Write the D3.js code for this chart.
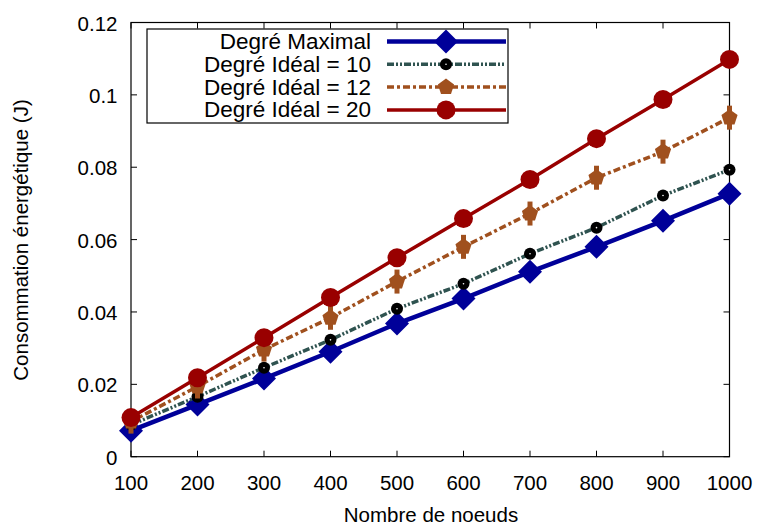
<!DOCTYPE html>
<html><head><meta charset="utf-8">
<script src="https://cdn.jsdelivr.net/npm/d3@7"></script>
<style>body{margin:0;background:#fff}svg{display:block}text{font-family:"Liberation Sans",Arial,sans-serif;fill:#000}</style>
</head><body><svg id="c" width="759" height="525"></svg>
<script>
const nodes = [100,200,300,400,500,600,700,800,900,1000];
const degreMaximal = [0.0072,0.0144,0.0216,0.0290,0.0368,0.0437,0.0511,0.0580,0.0652,0.0727];
const ideal10 = [0.0088,0.0166,0.0246,0.0323,0.0409,0.0478,0.0561,0.0633,0.0722,0.0793];
const ideal12 = [0.0097,0.0194,0.0296,0.0384,0.0484,0.0580,0.0672,0.0771,0.0843,0.0937];
const ideal20 = [0.0108,0.0218,0.0329,0.0440,0.0550,0.0658,0.0766,0.0879,0.0987,0.1098];
const yTicks = [0,0.02,0.04,0.06,0.08,0.1,0.12];
const seriesNames = ["Degré Maximal","Degré Idéal = 10","Degré Idéal = 12","Degré Idéal = 20"];

const series = [
  {name:seriesNames[0], values:degreMaximal, color:"#000099", width:4.5, dash:null, marker:"diamond"},
  {name:seriesNames[1], values:ideal10, color:"#2f5350", width:3.5, dash:"7,2,2,2,2,2", marker:"dot"},
  {name:seriesNames[2], values:ideal12, color:"#a0501e", width:3.5, dash:"7,3,3,3", marker:"pent"},
  {name:seriesNames[3], values:ideal20, color:"#990000", width:3.5, dash:null, marker:"circle"}
];

const L=131, R=729.5, T=22.5, B=456.7;
const svg = d3.select("#c");
const x = d3.scaleLinear().domain([100,1000]).range([L,R]);
const y = d3.scaleLinear().domain([0,0.12]).range([B,T]);

svg.append("rect").attr("x",L).attr("y",T).attr("width",R-L).attr("height",B-T)
  .attr("fill","none").attr("stroke","#000").attr("stroke-width",1.2);

const tl=6;
nodes.forEach(v=>{
  const px=x(v);
  svg.append("line").attr("x1",px).attr("x2",px).attr("y1",B).attr("y2",B-tl).attr("stroke","#000");
  svg.append("line").attr("x1",px).attr("x2",px).attr("y1",T).attr("y2",T+tl).attr("stroke","#000");
  svg.append("text").attr("x",px).attr("y",489.5).attr("text-anchor","middle").attr("font-size",20.5).text(v);
});
yTicks.forEach(v=>{
  const py=y(v);
  svg.append("line").attr("x1",L).attr("x2",L+tl).attr("y1",py).attr("y2",py).attr("stroke","#000");
  svg.append("line").attr("x1",R).attr("x2",R-tl).attr("y1",py).attr("y2",py).attr("stroke","#000");
  svg.append("text").attr("x",117.5).attr("y",py+8).attr("text-anchor","end").attr("font-size",20.5).text(d3.format("")(v));
});

svg.append("text").attr("x",431).attr("y",521.5).attr("text-anchor","middle").attr("font-size",20.5).text("Nombre de noeuds");
svg.append("text").attr("transform","translate(28,240) rotate(-90)").attr("text-anchor","middle").attr("font-size",20.5).text("Consommation énergétique (J)");

function drawMarker(g, s, cx, cy, legend){
  if(s.marker==="diamond"){
    g.append("path").attr("d",`M${cx},${cy-12}L${cx+12},${cy}L${cx},${cy+12}L${cx-12},${cy}Z`).attr("fill",s.color);
  } else if(s.marker==="dot"){
    g.append("circle").attr("cx",cx).attr("cy",cy).attr("r",6).attr("fill","#000");
    g.append("circle").attr("cx",cx).attr("cy",cy).attr("r",0.8).attr("fill","#fff");
  } else if(s.marker==="pent"){
    const r=8.5;
    const pts=d3.range(5).map(i=>{const a=-Math.PI/2+i*2*Math.PI/5;return [cx+r*Math.cos(a),cy+r*Math.sin(a)];});
    g.append("path").attr("d","M"+pts.join("L")+"Z").attr("fill",s.color);
    if(!legend){
      g.append("line").attr("x1",cx).attr("x2",cx).attr("y1",cy-12).attr("y2",cy+12).attr("stroke",s.color).attr("stroke-width",5);
    }
  } else {
    g.append("circle").attr("cx",cx).attr("cy",cy).attr("r",9.5).attr("fill",s.color);
  }
}

const line = d3.line().x((d,i)=>x(nodes[i])).y(d=>y(d));
const plot = svg.append("g");
series.forEach(s=>{
  const g=plot.append("g");
  g.append("path").attr("d",line(s.values)).attr("fill","none").attr("stroke",s.color)
    .attr("stroke-width",s.width).attr("stroke-dasharray",s.dash);
  s.values.forEach((v,i)=>drawMarker(g,s,x(nodes[i]),y(v),false));
});

const lg = svg.append("g");
lg.append("rect").attr("x",147).attr("y",29).attr("width",361).attr("height",94).attr("fill","#fff").attr("stroke","#000").attr("stroke-width",1.2);
series.forEach((s,i)=>{
  const cy=41.5+i*22.8;
  lg.append("text").attr("x",371).attr("y",cy+7.5).attr("text-anchor","end").attr("font-size",22.5).text(s.name);
  lg.append("line").attr("x1",387).attr("x2",506).attr("y1",cy).attr("y2",cy).attr("stroke",s.color)
    .attr("stroke-width",s.width).attr("stroke-dasharray",s.dash);
  drawMarker(lg,s,446,cy,true);
});
</script></body></html>
